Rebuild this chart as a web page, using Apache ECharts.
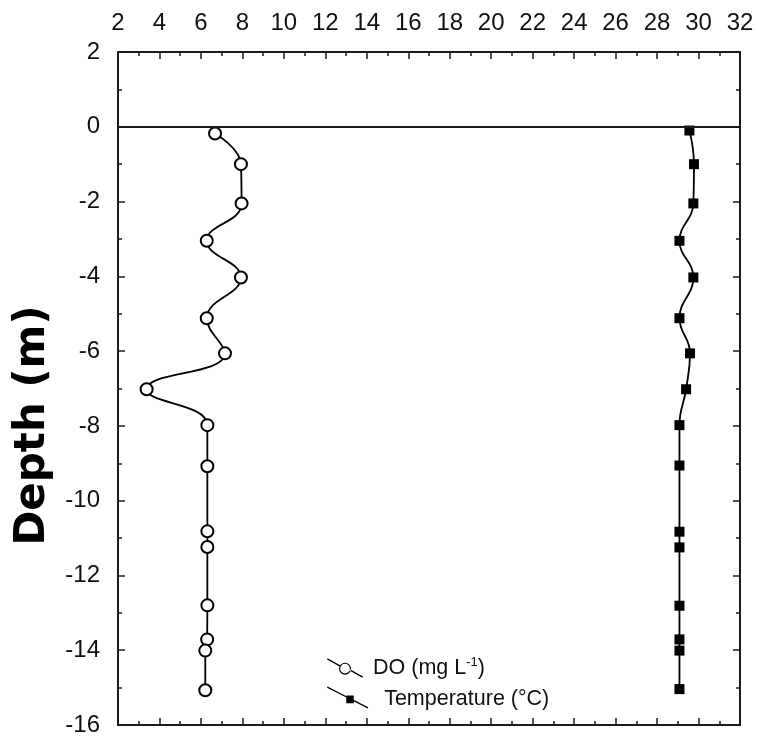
<!DOCTYPE html>
<html>
<head>
<meta charset="utf-8">
<script src="https://cdn.jsdelivr.net/npm/echarts@6/dist/echarts.min.js"></script>
<style>
  html, body { margin: 0; padding: 0; background: #fff; }
  #chart { width: 758px; height: 742px; }
</style>
</head>
<body>
<div id="chart"></div>
<script>
  // depth profile
  const doDepth = [-0.18, -1.0, -2.05, -3.05, -4.03, -5.12, -6.06, -7.02, -7.98, -9.08, -10.82, -11.24, -12.8, -13.71, -14.01, -15.07];
  const doValues = [6.68, 7.93, 7.96, 6.28, 7.93, 6.28, 7.16, 3.38, 6.31, 6.31, 6.31, 6.31, 6.31, 6.3, 6.21, 6.21];
  const tempDepth = [-0.1, -1.0, -2.05, -3.05, -4.03, -5.12, -6.06, -7.02, -7.98, -9.06, -10.83, -11.25, -12.81, -13.71, -14.01, -15.04];
  const tempValues = [29.56, 29.78, 29.75, 29.08, 29.75, 29.08, 29.59, 29.4, 29.08, 29.08, 29.08, 29.08, 29.08, 29.08, 29.08, 29.08];

  const xTicks = [2, 32, 2];   // min, max, interval
  const yTicks = [-16, 2, 2];

  const AXIS_COLOR = '#1a1a1a';
  const FONT = 'Liberation Sans, Arial, sans-serif';

  // legend keys: slanted line through the marker
  const doIcon = 'path://M0.34 -0.61 L13.54 6.72 L12.86 7.94 L-0.34 0.61 Z ' +
    'M22.46 11.94 L35.66 19.27 L36.34 18.05 L23.14 10.72 Z ' +
    'M24.1 10 A6.1 6.1 0 1 1 11.9 10 A6.1 6.1 0 1 1 24.1 10 Z ' +
    'M22.9 10 A4.9 4.9 0 1 0 13.1 10 A4.9 4.9 0 1 0 22.9 10 Z';
  const tIcon = 'path://M0.32 -0.62 L20.32 9.61 L19.68 10.85 L-0.32 0.62 Z ' +
    'M28.32 13.71 L43.32 21.38 L42.68 22.62 L27.68 14.95 Z ' +
    'M20 9 L28 9 L28 17 L20 17 Z';

  function axisBase(pos, ticks, showLabel, margin) {
    return {
      type: 'value',
      position: pos,
      min: ticks[0],
      max: ticks[1],
      interval: ticks[2],
      axisLine: { show: true, onZero: false, lineStyle: { color: AXIS_COLOR, width: 2 } },
      axisTick: { show: true, inside: true, length: 7, lineStyle: { color: AXIS_COLOR, width: 1.5 } },
      minorTick: { show: true, splitNumber: 2, length: 4, lineStyle: { color: AXIS_COLOR, width: 1.5 } },
      splitLine: { show: false },
      axisLabel: { show: showLabel, color: '#111', fontSize: 24, fontFamily: FONT, margin: margin }
    };
  }

  const chart = echarts.init(document.getElementById('chart'), null, { renderer: 'canvas' });

  const option = {
    animation: false,
    backgroundColor: '#fff',
    grid: { left: 118, right: 18, top: 52, bottom: 17 },
    xAxis: [
      axisBase('top', xTicks, true, 17),
      axisBase('bottom', xTicks, false, 8)
    ],
    yAxis: [
      Object.assign(axisBase('left', yTicks, true, 18), {
        name: 'Depth (m)',
        nameLocation: 'middle',
        nameRotate: 90,
        nameGap: 62,
        nameTextStyle: {
          color: '#000', fontSize: 42, fontWeight: 'bold', fontFamily: 'DejaVu Sans, sans-serif',
          padding: [0, 74, 0, 0]
        }
      }),
      axisBase('right', yTicks, false, 8)
    ],
    legend: [
      {
        data: [{ name: 'DO', icon: doIcon, itemStyle: { color: '#000', borderWidth: 0 } }],
        left: 327, top: 656, padding: 0,
        itemWidth: 36, itemHeight: 20,
        formatter: () => '{a|DO (mg L}{s|-1}{b|)}',
        textStyle: {
          rich: {
            a: { fontSize: 21.5, fontFamily: FONT, color: '#111', lineHeight: 24, padding: [0, 0, 0, 5] },
            s: { fontSize: 13, fontFamily: FONT, color: '#111', verticalAlign: 'top', lineHeight: 14 },
            b: { fontSize: 21.5, fontFamily: FONT, color: '#111', lineHeight: 24 }
          }
        }
      },
      {
        data: [{ name: 'Temperature', icon: tIcon, itemStyle: { color: '#000', borderWidth: 0 } }],
        left: 327, top: 685, padding: 0,
        itemWidth: 43, itemHeight: 22,
        formatter: () => '{a|Temperature (°C)}',
        textStyle: {
          rich: {
            a: { fontSize: 21.5, fontFamily: FONT, color: '#111', lineHeight: 24, padding: [3, 0, 0, 10] }
          }
        }
      }
    ],
    series: [
      {
        name: 'DO',
        type: 'line',
        xAxisIndex: 0,
        yAxisIndex: 0,
        data: doValues.map((v, i) => [v, doDepth[i]]),
        smooth: 0.45,
        symbol: 'emptyCircle',
        symbolSize: 12,
        lineStyle: { color: '#000', width: 1.8 },
        itemStyle: { color: '#000', borderColor: '#000', borderWidth: 1.2 },
        markLine: {
          silent: true,
          symbol: 'none',
          label: { show: false },
          lineStyle: { color: '#1a1a1a', width: 2, type: 'solid' },
          data: [{ yAxis: 0 }]
        },
        z: 3
      },
      {
        name: 'Temperature',
        type: 'line',
        xAxisIndex: 0,
        yAxisIndex: 0,
        data: tempValues.map((v, i) => [v, tempDepth[i]]),
        smooth: 0.45,
        symbol: 'rect',
        symbolSize: 10,
        lineStyle: { color: '#000', width: 1.8 },
        itemStyle: { color: '#000' },
        z: 3
      }
    ]
  };

  chart.setOption(option);
</script>
</body>
</html>
